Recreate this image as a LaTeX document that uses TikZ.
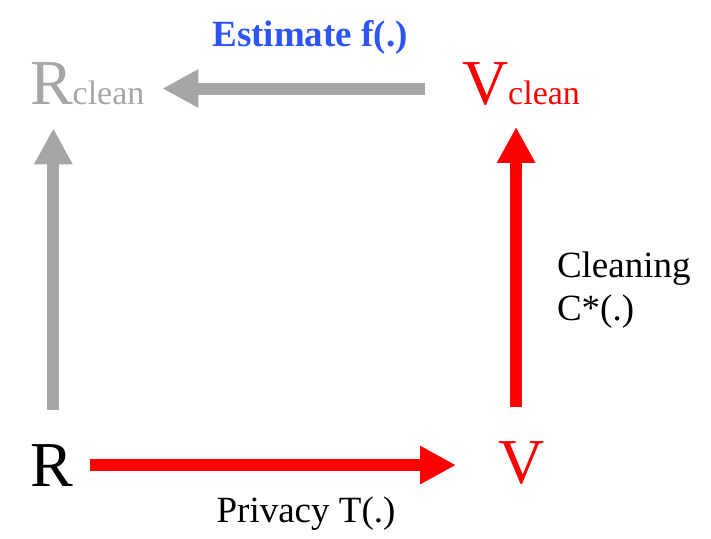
\documentclass[tikz,border=0pt]{standalone}
\usepackage{fontspec}
\setmainfont{Liberation Serif}
\usetikzlibrary{arrows.meta,positioning}
\definecolor{pale}{RGB}{166,166,166}
\definecolor{priv}{RGB}{255,0,0}
\definecolor{est}{RGB}{45,85,245}

\begin{document}
\begin{tikzpicture}[
  x=1pt, y=-1pt,
  every node/.style={inner sep=0pt, outer sep=0pt},
  big/.style={font=\fontsize{64}{64}\selectfont},
  label/.style={font=\fontsize{37}{43}\selectfont},
  paleline/.style={-{Triangle[length=36pt, width=36pt]}, line width=12pt, pale},
  privline/.style={-{Triangle[length=36pt, width=36pt]}, line width=12pt, priv}
]
\useasboundingbox (0,0) rectangle (711,538);

\node[big, pale, anchor=base west] (rclean) at (30,104)
  {R{\fontsize{34}{34}\selectfont clean}};
\node[big, priv, anchor=base west] (vclean) at (462,104)
  {V{\fontsize{34}{34}\selectfont clean}};
\node[big, anchor=base west] (r) at (30,486) {R};
\node[big, priv, anchor=base west] (v) at (498,483) {V};
\node[label, est, anchor=base, font=\fontsize{37}{43}\selectfont\bfseries] (estimate) at (310,46) {Estimate f(.)};
\node[label, anchor=base] (privacy) at (306,522) {Privacy T(.)};
% last line sits on the base anchor
\node[label, anchor=base west, align=left] (cleaning) at (557,320) {Cleaning\\C*(.)};

\draw[paleline, shorten <=37pt, shorten >=18pt]
  ([yshift=-5pt]vclean.west) -- ([yshift=-5pt]vclean.west -| rclean.east);
\draw[paleline, shorten <=34pt, shorten >=24pt]
  ([xshift=2pt]r.north) -- ([xshift=2pt]r.north |- rclean.south);
\draw[privline, shorten <=34pt, shorten >=22pt]
  ([xshift=-5pt]v.north) -- ([xshift=-5pt]v.north |- vclean.south);
\draw[privline, shorten <=17pt, shorten >=42pt]
  (r.east) -- (r.east -| v.west);
\end{tikzpicture}
\end{document}
